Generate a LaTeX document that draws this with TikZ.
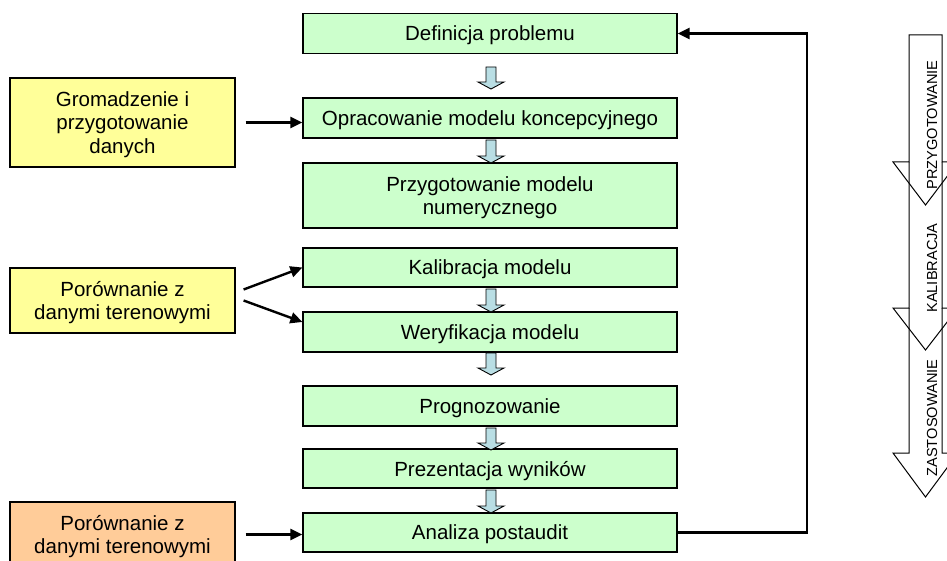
\documentclass[tikz,border=0pt]{standalone}
\usepackage{fontspec}
\setmainfont{Liberation Sans}
\usetikzlibrary{arrows.meta,calc}
\definecolor{boxgreen}{HTML}{CCFFCC}
\definecolor{boxyellow}{HTML}{FFFF99}
\definecolor{boxorange}{HTML}{FFCC99}
\definecolor{arrblue}{HTML}{B9DEE4}
\tikzset{
  stepbox/.style={draw=black, line width=1.2pt, fill=boxgreen, minimum width=374pt, inner sep=2pt,
    font=\fontsize{20.5}{23.5}\selectfont, align=center, text depth=0pt},
  sidebox/.style={draw=black, line width=1.2pt, minimum width=225pt, inner sep=2pt,
    font=\fontsize{20.5}{23.5}\selectfont, align=center, text depth=0pt},
  conn/.style={line width=2.4pt, -{Triangle[length=12pt,width=11pt]}},
  barrow/.style={draw=black, line width=0.9pt, fill=arrblue},
  bigarrow/.style={draw=black, line width=1pt},
  phase/.style={rotate=90, font=\fontsize{14.6}{16}\selectfont, inner sep=0pt}
}
\begin{document}
\begin{tikzpicture}[x=1pt,y=-1pt]
\useasboundingbox (0,0) rectangle (947,561);
\clip (0,0) rectangle (947,561);
\fill[white] (0,0) rectangle (947,561);

% main column
\node[stepbox, minimum height=40pt] (def) at (490,33.5) {Definicja problemu};
\node[stepbox, minimum height=40pt] (opr) at (490,118) {Opracowanie modelu koncepcyjnego};
\node[stepbox, minimum height=65pt] (prz) at (490,195.5) {Przygotowanie modelu\\numerycznego};
\node[stepbox, minimum height=39pt] (kal) at (490,267.5) {Kalibracja modelu};
\node[stepbox, minimum height=40pt] (wer) at (490,332) {Weryfikacja modelu};
\node[stepbox, minimum height=40pt] (prog) at (490,406) {Prognozowanie};
\node[stepbox, minimum height=39pt] (prez) at (490,468.5) {Prezentacja wyników};
\node[stepbox, minimum height=39pt] (ana) at (490,532.5) {Analiza postaudit};

% side boxes
\node[sidebox, fill=boxyellow, minimum height=89pt] (grom) at (122.5,122.5) {Gromadzenie i\\przygotowanie\\danych};
\node[sidebox, fill=boxyellow, minimum height=65pt] (por1) at (122.5,300.5) {Porównanie z\\danymi terenowymi};
\node[sidebox, fill=boxorange, minimum height=65pt] (por2) at (122.5,534.5) {Porównanie z\\danymi terenowymi};

% small block arrows between steps
\foreach \t/\b in {67/89, 140/163, 289/312, 353/375, 428/450, 490/513}{
  \filldraw[barrow] (486,\t) -- (496,\t) -- (496,{\b-7}) -- (504,{\b-7}) -- (491,\b)
     -- (478,{\b-7}) -- (486,{\b-7}) -- cycle;
}

% connectors from side boxes
\draw[conn] ([xshift=10pt]grom.east) -- (grom.east -| opr.west);
\draw[conn] ([xshift=8pt,yshift=11pt]por1.east) -- (kal.west);
\draw[conn] ([xshift=8pt]por1.east) -- ([yshift=10pt]wer.west);
\draw[conn] ([xshift=10pt]por2.east) -- (por2.east -| ana.west);

% feedback loop
\coordinate (rr) at (807,0);
\draw[conn] (ana.east) -- (ana.east -| rr) |- (def.east);

% phase arrows on the right
\draw[bigarrow] (909,162) -- (909,35) -- (942,35) -- (942,162) -- (958,162) -- (925.5,205) -- (893,162) -- cycle;
\draw[bigarrow] (909,162) -- (909,308) -- (893,308) -- (925.5,350) -- (958,308) -- (942,308) -- (942,162);
\draw[bigarrow] (909,308) -- (909,453) -- (893,453) -- (925.5,497) -- (958,453) -- (942,453) -- (942,308);
\node[phase] (p1) at (932,125) {PRZYGOTOWANIE};
\node[phase] (p2) at (932,268) {KALIBRACJA};
\node[phase] (p3) at (932,418) {ZASTOSOWANIE};
\end{tikzpicture}
\end{document}
